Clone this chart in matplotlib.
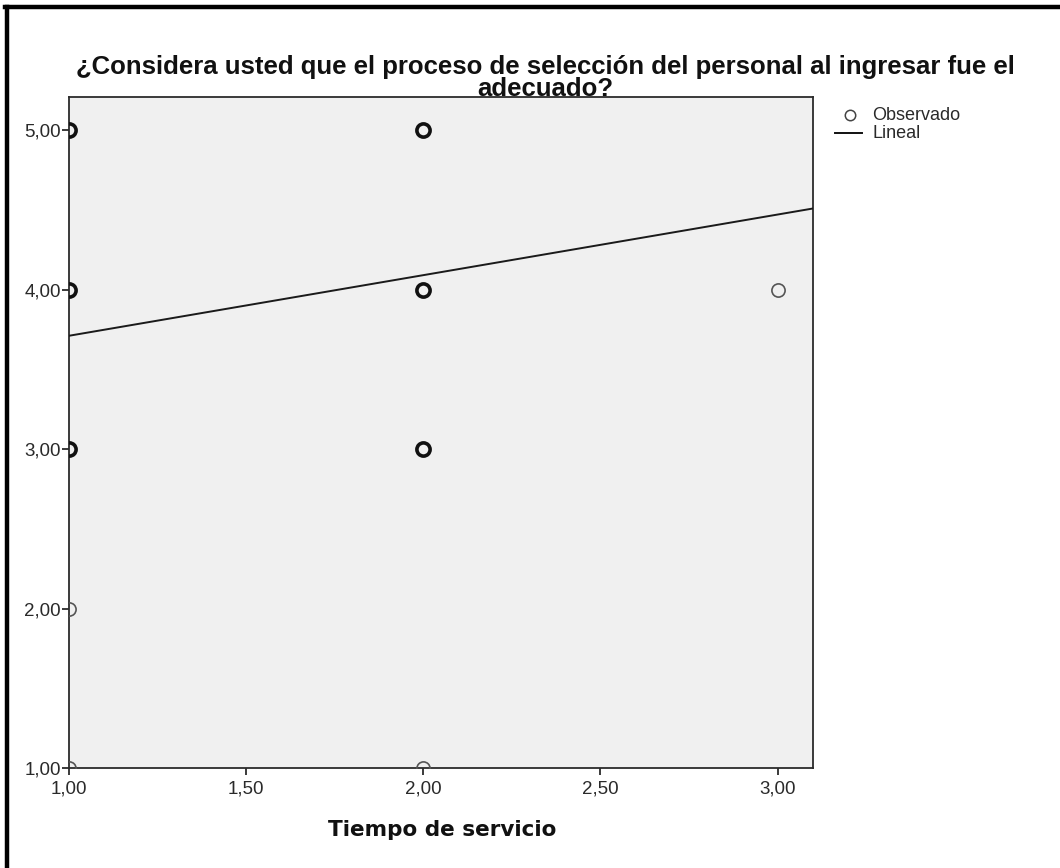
import matplotlib
matplotlib.use("Agg")
import matplotlib.pyplot as plt
from matplotlib.lines import Line2D
from matplotlib.ticker import FuncFormatter

# Observed responses: service time vs. rating, with how many cases share each point
x_obs = [1, 1, 1, 1, 1, 2, 2, 2, 2, 3]
y_obs = [5, 4, 3, 2, 1, 5, 4, 3, 1, 4]
n_obs = [3, 3, 3, 1, 1, 3, 3, 3, 1, 1]

# Linear fit
fit_intercept = 3.33
fit_slope = 0.38

x_ticks = [1.0, 1.5, 2.0, 2.5, 3.0]
y_ticks = [1.0, 2.0, 3.0, 4.0, 5.0]

title_line1 = "¿Considera usted que el proceso de selección del personal al ingresar fue el"
title_line2 = "adecuado?"
x_label = "Tiempo de servicio"

W, H = 1060, 868
fig = plt.figure(figsize=(W / 100, H / 100), dpi=100)
fig.patch.set_facecolor("white")

# plot area in pixel coordinates
L, T, R, B = 69, 97, 813, 768
ax = fig.add_axes([L / W, 1 - B / H, (R - L) / W, (B - T) / H])
ax.set_facecolor("#f0f0f0")
ax.set_xlim(1.0, 3.1)
ax.set_ylim(1.0, 5.207)

for side in ["top", "right", "bottom", "left"]:
    ax.spines[side].set_color("#2b2b2b")
    ax.spines[side].set_linewidth(1.3)

comma = FuncFormatter(lambda v, p: f"{v:.2f}".replace(".", ","))
ax.set_xticks(x_ticks)
ax.set_yticks(y_ticks)
ax.xaxis.set_major_formatter(comma)
ax.yaxis.set_major_formatter(comma)
ax.tick_params(axis="both", direction="out", length=5, width=1.3, color="#2b2b2b",
               labelsize=13.5, labelcolor="#2a2a2a")
ax.tick_params(axis="x", pad=4)
ax.tick_params(axis="y", pad=1)
for lbl in ax.get_xticklabels() + ax.get_yticklabels():
    lbl.set_fontfamily("Liberation Sans")

# regression line
xl = ax.get_xlim()
ax.plot(xl, [fit_intercept + fit_slope * xl[0], fit_intercept + fit_slope * xl[1]],
        color="#1a1a1a", lw=1.4, zorder=3)

# observed points: stacked cases render as heavier circles
for xv, yv, n in zip(x_obs, y_obs, n_obs):
    heavy = n > 1
    ax.plot([xv], [yv], marker="o", ms=9.5, mfc="none",
            mec="#111111" if heavy else "#555555", mew=2.6 if heavy else 1.2,
            ls="none", zorder=4, clip_on=True)

# legend drawn in figure pixels
def fx(px):
    return px / W

def fy(py):
    return 1 - py / H

fig.add_artist(Line2D([fx(850)], [fy(115)], marker="o", ms=7.5, mfc="none",
                      mec="#444444", mew=1.1, ls="none"))
fig.text(fx(872), fy(115), "Observado", fontsize=13, family="Liberation Sans",
         color="#2a2a2a", va="center", ha="left")
fig.add_artist(Line2D([fx(835), fx(862)], [fy(133), fy(133)], color="#111111", lw=1.4))
fig.text(fx(872), fy(133), "Lineal", fontsize=13, family="Liberation Sans",
         color="#2a2a2a", va="center", ha="left")

# title and axis label
fig.text(fx(545), fy(67), title_line1, fontsize=18.5, fontweight="bold",
         family="Liberation Sans", ha="center", va="center", color="#111111")
fig.text(fx(545), fy(89), title_line2, fontsize=18.5, fontweight="bold",
         family="Liberation Sans", ha="center", va="center", color="#111111")
fig.text(fx(442), fy(830), x_label, fontsize=15.5, fontweight="bold",
         family="DejaVu Sans", ha="center", va="center", color="#111111")

# frame along the top and left of the figure
fig.add_artist(Line2D([fx(7), fx(7)], [fy(7), fy(H + 5)], color="black", lw=3.2))
fig.add_artist(Line2D([fx(5), fx(W + 5)], [fy(7), fy(7)], color="black", lw=3.2))

fig.savefig("out.png", dpi=100)
